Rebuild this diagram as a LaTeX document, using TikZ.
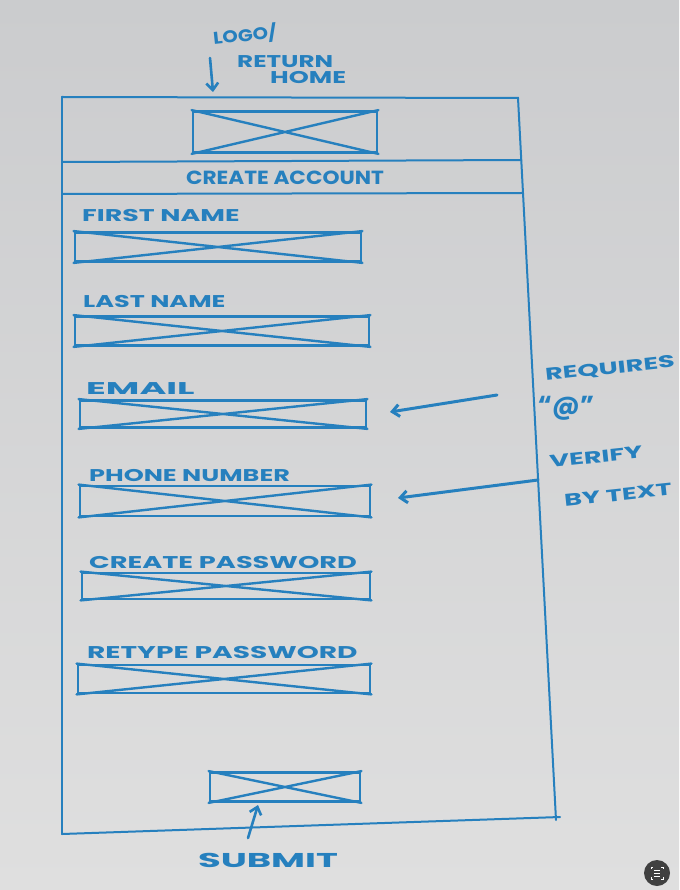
\documentclass[tikz,border=0pt]{standalone}
\usepackage{fontspec}
\usepackage{graphicx}
\setmainfont{Poppins}
\usetikzlibrary{arrows.meta}
\definecolor{marker}{RGB}{38,128,190}
\definecolor{boardtop}{RGB}{203,204,206}
\definecolor{boardbot}{RGB}{223,223,223}
% marker lettering is wider than the font: stretch it sideways
\newcommand{\stretchx}[2]{\scalebox{#1}[1]{#2}}
\begin{document}
\begin{tikzpicture}[x=1pt,y=-1pt,
  frame/.style={draw=marker, line width=2pt, line cap=round},
  ink/.style={draw=marker, line width=2.8pt, line cap=round, line join=round},
  xbox/.style={ink, rectangle, inner sep=0pt},
  lbl/.style={text=marker, font=\bfseries\fontsize{17}{19}\selectfont, inner sep=0pt, anchor=west},
  note/.style={text=marker, font=\bfseries\fontsize{17}{18}\selectfont, inner sep=0pt},
  arr/.style={ink, line width=3pt, -{Straight Barb[length=7pt,width=12pt]}}]
% whiteboard
\shade[top color=boardtop, bottom color=boardbot] (0,0) rectangle (679,890);
\useasboundingbox (0,0) rectangle (679,890);

% page frame
\coordinate (tl) at (62,97);
\coordinate (tr) at (518,98);
\coordinate (br) at (556,820);
\coordinate (bl) at (62,834);
\draw[frame] (tl) -- (tr) -- (br);
\draw[frame] (tl) -- (bl);
\draw[frame] (bl) -- (560,817);
\coordinate (h1l) at (63,162);
\coordinate (h1r) at (521,160);
\coordinate (h2l) at (63,194);
\coordinate (h2r) at (522,193);
\draw[frame] (h1l) -- (h1r);
\draw[frame] (h2l) -- (h2r);

% placeholder boxes
\node[xbox, minimum width=184pt, minimum height=41pt] (logo) at (285,132) {};
\node[xbox, minimum width=286pt, minimum height=29pt] (first) at (218,247) {};
\node[xbox, minimum width=294pt, minimum height=29pt] (last) at (222,331) {};
\node[xbox, minimum width=286pt, minimum height=27pt] (email) at (223,414) {};
\node[xbox, minimum width=290pt, minimum height=30pt] (phone) at (225,501) {};
\node[xbox, minimum width=288pt, minimum height=26pt] (pass) at (226,586) {};
\node[xbox, minimum width=292pt, minimum height=28pt] (retype) at (224,679) {};
\node[xbox, minimum width=150pt, minimum height=29pt] (submit) at (285,787) {};
\foreach \b in {logo,first,last,email,phone,pass,retype,submit}
  \draw[ink, line width=2.4pt] (\b.north west) -- (\b.south east)
                               (\b.south west) -- (\b.north east);

% field labels
\node[note, font=\bfseries\fontsize{19}{20}\selectfont] (title) at (285,178) {\stretchx{1.14}{CREATE ACCOUNT}};
\node[lbl] (lfirst) at (82,216) {\stretchx{1.58}{FIRST NAME}};
\node[lbl] (llast) at (83,302) {\stretchx{1.5}{LAST NAME}};
\node[lbl] (lemail) at (86,389) {\stretchx{2.15}{EMAIL}};
\node[lbl] (lphone) at (89,476) {\stretchx{1.5}{PHONE NUMBER}};
\node[lbl] (lpass) at (89,563) {\stretchx{1.6}{CREATE PASSWORD}};
\node[lbl] (lretype) at (87,653) {\stretchx{1.65}{RETYPE PASSWORD}};

% annotations
\node[note, rotate=6] (logotxt) at (245,35) {\stretchx{1.15}{LOGO/}};
\node[note, anchor=west] (rettxt) at (237,62) {\stretchx{1.45}{RETURN}};
\node[note, anchor=west] (hometxt) at (270,78) {\stretchx{1.5}{HOME}};
\coordinate (logotail) at (210,58);
\draw[arr, line width=2.6pt] (logotail) -- (213,92);

\node[note, rotate=6] (req) at (610,369) {\stretchx{1.6}{REQUIRES}};
\node[note, font=\bfseries\fontsize{26}{26}\selectfont] (at) at (566,408) {``@''};
\coordinate (reqtail) at (497,395);
\draw[arr] (reqtail) -- (390,412);

\node[note, rotate=6] (verify) at (596,457) {\stretchx{1.6}{VERIFY}};
\node[note, rotate=6] (bytext) at (618,495) {\stretchx{1.6}{BY TEXT}};
\coordinate (vtail) at (538,480);
\draw[arr] (vtail) -- (398,498);

\coordinate (subtail) at (248,838);
\draw[arr, line width=2.6pt] (subtail) -- (258,805);
\node[note, font=\bfseries\fontsize{20}{20}\selectfont] (subtxt) at (268,860) {\stretchx{1.85}{SUBMIT}};

% lens button
\fill[black!75] (657,873) circle (13);
\draw[white, line width=1pt] (651,869) -- (651,867) -- (653,867)
  (661,867) -- (663,867) -- (663,869) (663,877) -- (663,879) -- (661,879)
  (653,879) -- (651,879) -- (651,877)
  (654,870) -- (660,870) (654,873) -- (660,873) (654,876) -- (660,876);
\end{tikzpicture}
\end{document}
